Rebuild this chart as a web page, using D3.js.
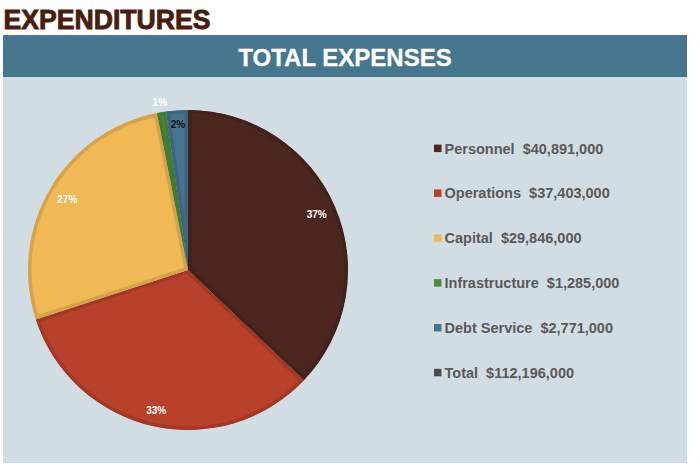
<!DOCTYPE html>
<html>
<head>
<meta charset="utf-8">
<script src="https://cdn.jsdelivr.net/npm/d3@7/dist/d3.min.js"></script>
<style>
  body { margin: 0; background: #ffffff; }
  svg { display: block; }
  text { white-space: pre; }
</style>
</head>
<body>
<svg id="chart" width="700" height="470"></svg>
<script>
// ---- data ----
const categories = ["Personnel", "Operations", "Capital", "Infrastructure", "Debt Service"];
const amounts = [40891000, 37403000, 29846000, 1285000, 2771000];      // legend amounts
const sliceShares = [37.1, 32.9, 26.9, 0.9, 2.2];                       // slice sizes (%)
const percentLabels = ["37%", "33%", "27%", "1%", "2%"];
const sliceColors = ["#4b2720", "#b8412b", "#f0b955", "#4b8b3b", "#48748f"];
const totalLabel = "Total";
const totalAmount = 112196000;
const totalColor = "#4d4d4d";
const pageTitle = "EXPENDITURES";
const chartTitle = "TOTAL EXPENSES";

// ---- drawing ----
const svg = d3.select("#chart");
const fmt = d3.format("$,");

// page title
svg.append("text")
  .attr("x", 3.5).attr("y", 29)
  .attr("font-family", "Liberation Sans, Arial, sans-serif")
  .attr("font-weight", "bold").attr("font-size", 27)
  .attr("textLength", 207).attr("lengthAdjust", "spacingAndGlyphs")
  .attr("fill", "#4a1d0f").attr("stroke", "#4a1d0f").attr("stroke-width", 0.9)
  .text(pageTitle);

// panel
svg.append("rect").attr("x", 3).attr("y", 77).attr("width", 684).attr("height", 386).attr("fill", "#d2dde3");
svg.append("rect").attr("x", 3).attr("y", 35).attr("width", 684).attr("height", 42).attr("fill", "#47768f");
svg.append("text")
  .attr("x", 345).attr("y", 65.5)
  .attr("text-anchor", "middle")
  .attr("font-family", "Liberation Sans, Arial, sans-serif")
  .attr("font-weight", "bold").attr("font-size", 24)
  .attr("fill", "#ffffff").attr("stroke", "#ffffff").attr("stroke-width", 0.3)
  .text(chartTitle);

// pie
const cx = 188, cy = 270, R = 160;
const pie = d3.pie().sort(null).value(d => d.value);
const data = categories.map((c, i) => ({ name: c, value: sliceShares[i], amount: amounts[i], label: percentLabels[i], color: sliceColors[i] }));
const arcs = pie(data);
const arc = d3.arc().innerRadius(0).outerRadius(R);
const g = svg.append("g").attr("transform", `translate(${cx},${cy})`);
const defs = svg.append("defs");

defs.selectAll("clipPath").data(arcs).join("clipPath")
  .attr("id", (d, i) => "clip" + i)
  .append("path").attr("d", arc);

g.selectAll("path.slice").data(arcs).join("path")
  .attr("class", "slice")
  .attr("d", arc)
  .attr("clip-path", (d, i) => `url(#clip${i})`)
  .attr("fill", d => d.data.color)
  .attr("stroke", d => d3.color(d.data.color).darker(0.35))
  .attr("stroke-width", 7)
  .attr("stroke-linejoin", "miter");

// percent labels
const labelRadius = [140, 144, 140, 170, 146];
const labelColor = ["#ffffff", "#ffffff", "#ffffff", "#ffffff", "#111111"];
g.selectAll("text.pct").data(arcs).join("text")
  .attr("class", "pct")
  .attr("transform", (d, i) => {
    const a = (d.startAngle + d.endAngle) / 2;
    const r = labelRadius[i];
    return `translate(${Math.sin(a) * r},${-Math.cos(a) * r})`;
  })
  .attr("text-anchor", "middle")
  .attr("dy", "0.35em")
  .attr("font-family", "Liberation Sans, Arial, sans-serif")
  .attr("font-weight", "bold").attr("font-size", 10)
  .attr("fill", (d, i) => labelColor[i])
  .text(d => d.data.label);

// legend
const legendItems = data.map(d => ({ name: d.name, value: d.amount, color: d.color }))
  .concat([{ name: totalLabel, value: totalAmount, color: totalColor }]);
const ly = d3.scaleLinear().domain([0, legendItems.length - 1]).range([148.3, 372.5]);
const lg = svg.append("g");
const rows = lg.selectAll("g.row").data(legendItems).join("g")
  .attr("class", "row")
  .attr("transform", (d, i) => `translate(434,${ly(i)})`);
rows.append("rect")
  .attr("x", 0).attr("y", -3.7).attr("width", 7.5).attr("height", 7.5)
  .attr("fill", d => d.color);
rows.append("text")
  .attr("x", 10.5).attr("y", 5.2)
  .attr("font-family", "Liberation Sans, Arial, sans-serif")
  .attr("font-weight", "bold").attr("font-size", 14.5)
  .attr("fill", "#595959")
  .text(d => `${d.name}  ${fmt(d.value)}`);
</script>
</body>
</html>
